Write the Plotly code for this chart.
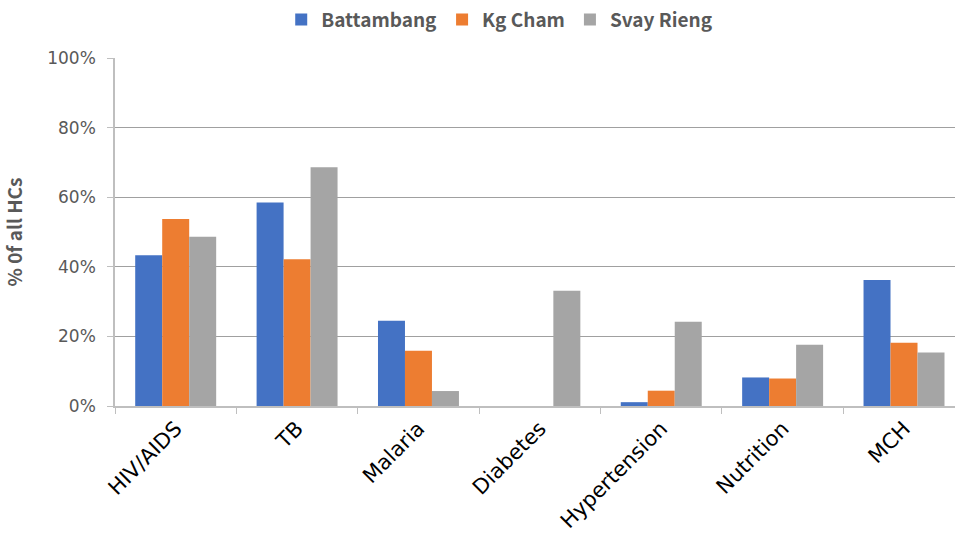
import plotly.graph_objects as go

categories = ["HIV/AIDS", "TB", "Malaria", "Diabetes", "Hypertension", "Nutrition", "MCH"]
battambang = [43.3, 58.5, 24.5, 0, 1.1, 8.2, 36.2]
kg_cham = [53.7, 42.2, 15.9, 0, 4.4, 7.9, 18.2]
svay_rieng = [48.6, 68.6, 4.3, 33.1, 24.2, 17.6, 15.4]
y_ticks = [0, 20, 40, 60, 80, 100]
y_tick_labels = ["0%", "20%", "40%", "60%", "80%", "100%"]

series = [
    ("Battambang", battambang, "#4472C4"),
    ("Kg Cham", kg_cham, "#ED7D31"),
    ("Svay Rieng", svay_rieng, "#A5A5A5"),
]

fig = go.Figure()
for name, vals, color in series:
    fig.add_trace(go.Bar(
        x=categories, y=vals, name=name,
        marker=dict(color=color, line=dict(width=0)),
    ))

label_font = "Noto Sans CJK JP"
tick_font = "'DejaVu Sans'"

fig.update_layout(
    width=955, height=541,
    margin=dict(l=115, r=0, t=58, b=134.5),
    paper_bgcolor="white", plot_bgcolor="white",
    barmode="group", bargap=0.333, bargroupgap=0,
    showlegend=True,
    legend=dict(
        orientation="h", x=0.458, xanchor="center", y=1.11, yanchor="middle",
        font=dict(family=label_font, size=19, color="#595959", weight="bold"),
        itemsizing="constant", traceorder="normal",
    ),
    xaxis=dict(
        range=[-0.5, 6.42],
        tickangle=-45,
        tickfont=dict(family=tick_font, size=21, color="#000000"),
        showline=True, linecolor="#bfbfbf", linewidth=2,
        ticks="outside", tickson="boundaries", ticklen=6, tickcolor="#bfbfbf",
        showgrid=False, zeroline=False,
    ),
    yaxis=dict(
        range=[0, 100], tickmode="array", tickvals=y_ticks, ticktext=y_tick_labels,
        tickfont=dict(family=tick_font, size=17, color="#595959"),
        ticklabelstandoff=8,
        title=dict(text="% 0f all HCs", standoff=20,
                   font=dict(family=label_font, size=19, color="#595959", weight="bold")),
        showline=True, linecolor="#bfbfbf", linewidth=1.5,
        ticks="outside", ticklen=6, tickcolor="#bfbfbf",
        showgrid=True, gridcolor="#a0a0a0", gridwidth=1,
        zeroline=False,
    ),
)

fig.write_html("out.html")
